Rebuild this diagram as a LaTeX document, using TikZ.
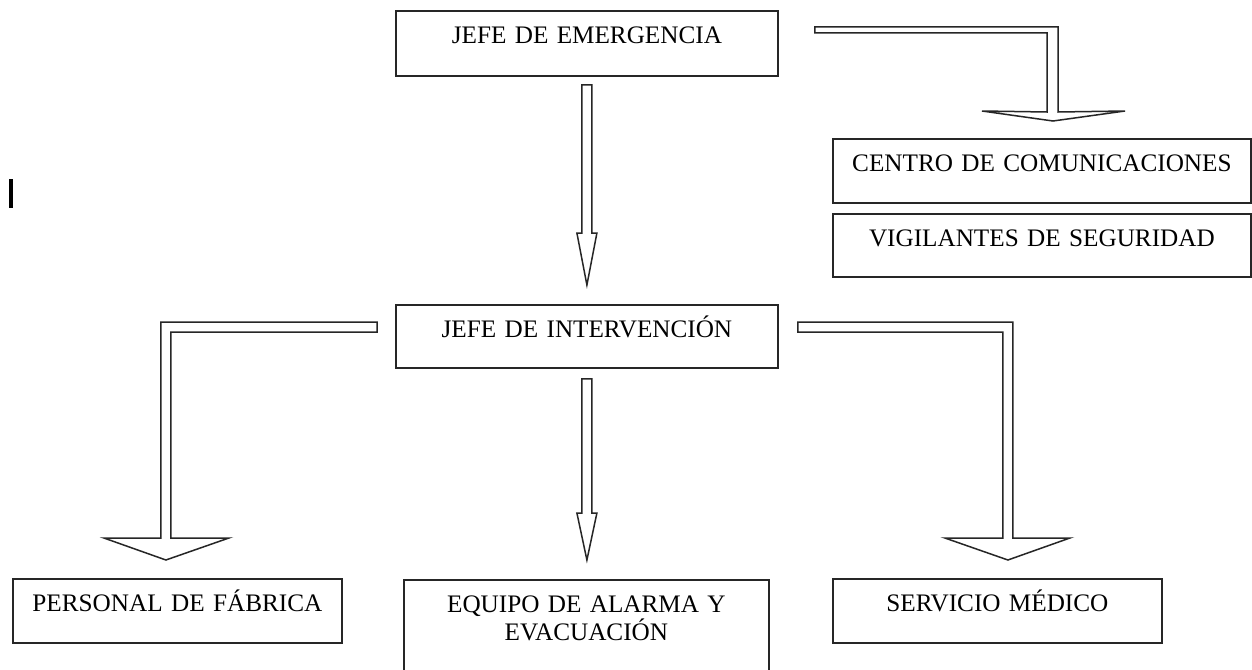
\documentclass[tikz,border=0pt]{standalone}
\usepackage{fontspec}
\setmainfont{Liberation Serif}
\usetikzlibrary{calc}
\tikzset{
  box/.style={draw=black!85, line width=1.8pt, inner xsep=0pt, inner ysep=16pt,
    text height=17pt, align=center, anchor=north west,
    font=\fontsize{25.2}{28}\selectfont},
  blockarrow/.style={draw=black!85, fill=white, line width=1.5pt, line join=miter}
}
\begin{document}
\begin{tikzpicture}[x=1pt,y=-1pt]
\fill[white] (0,0) rectangle (1252,669);
\clip (0,0) rectangle (1252,669);

% boxes
\node[box, text width=382pt, text depth=16pt] (emerg) at (395,10) {JEFE DE EMERGENCIA};
\node[box, text width=418pt, text depth=15pt] (centro) at (832,138) {CENTRO DE COMUNICACIONES};
\node[box, text width=418pt, text depth=14pt] (vigil) at (832,213) {VIGILANTES DE SEGURIDAD};
\node[box, text width=382pt, text depth=14pt] (inter) at (395,304) {JEFE DE INTERVENCIÓN};
\node[box, text width=329pt, text depth=15pt] (personal) at (12,578) {PERSONAL DE FÁBRICA};
\node[box, text width=365pt, text depth=61pt] (equipo) at (403,579) {EQUIPO DE ALARMA Y\\EVACUACIÓN};
\node[box, text width=329pt, text depth=15pt] (servicio) at (832,578) {SERVICIO MÉDICO};

% stray cursor bar
\fill[black] (9,179) rectangle (13,208);

% arrow 1: emerg -> inter
\coordinate (s1) at ($(emerg.south)+(0,8)$);
\coordinate (t1) at ($(inter.north)+(0,-19)$);
\draw[blockarrow] ($(s1)+(-5,0)$) -- ($(s1)+(5,0)$) -- ($(t1)+(5,-52)$) -- ($(t1)+(10,-52)$)
  -- (t1) -- ($(t1)+(-10,-52)$) -- ($(t1)+(-5,-52)$) -- cycle;

% arrow 2: inter -> equipo
\coordinate (s2) at ($(inter.south)+(0,10)$);
\coordinate (t2) at ($(inter.south |- equipo.north)+(0,-19)$);
\draw[blockarrow] ($(s2)+(-5,0)$) -- ($(s2)+(5,0)$) -- ($(t2)+(5,-47)$) -- ($(t2)+(10,-47)$)
  -- (t2) -- ($(t2)+(-10,-47)$) -- ($(t2)+(-5,-47)$) -- cycle;

% arrow 3: emerg -> centro (bent)
\coordinate (h3) at ($(emerg.north east)+(36,20)$);
\coordinate (t3) at ($(centro.north west)+(221,-17)$);
\coordinate (c3) at (t3 |- h3);
\draw[blockarrow] ($(h3)+(0,-3)$) -- ($(c3)+(5,-3)$) -- ($(t3)+(5,-9)$) -- ($(t3)+(72,-10)$)
  -- (t3) -- ($(t3)+(-71,-10)$) -- ($(t3)+(-6,-9)$) -- ($(c3)+(-6,3)$) -- ($(h3)+(0,3)$) -- cycle;

% arrow 4: inter -> personal (bent left)
\coordinate (h4) at ($(inter.north west)+(-18,23)$);
\coordinate (t4) at ($(personal.north)+(-11.5,-18)$);
\coordinate (c4) at (t4 |- h4);
\draw[blockarrow] ($(h4)+(0,-5)$) -- ($(c4)+(-5,-5)$) -- ($(t4)+(-5,-22)$) -- ($(t4)+(-62,-22)$)
  -- (t4) -- ($(t4)+(63,-22)$) -- ($(t4)+(5,-22)$) -- ($(c4)+(5,5)$) -- ($(h4)+(0,5)$) -- cycle;

% arrow 5: inter -> servicio (bent right)
\coordinate (h5) at ($(inter.north east)+(19,23)$);
\coordinate (t5) at ($(servicio.north)+(10.5,-18)$);
\coordinate (c5) at (t5 |- h5);
\draw[blockarrow] ($(h5)+(0,-5)$) -- ($(c5)+(5,-5)$) -- ($(t5)+(5,-22)$) -- ($(t5)+(62,-22)$)
  -- (t5) -- ($(t5)+(-63,-22)$) -- ($(t5)+(-5,-22)$) -- ($(c5)+(-5,5)$) -- ($(h5)+(0,5)$) -- cycle;
\end{tikzpicture}
\end{document}
